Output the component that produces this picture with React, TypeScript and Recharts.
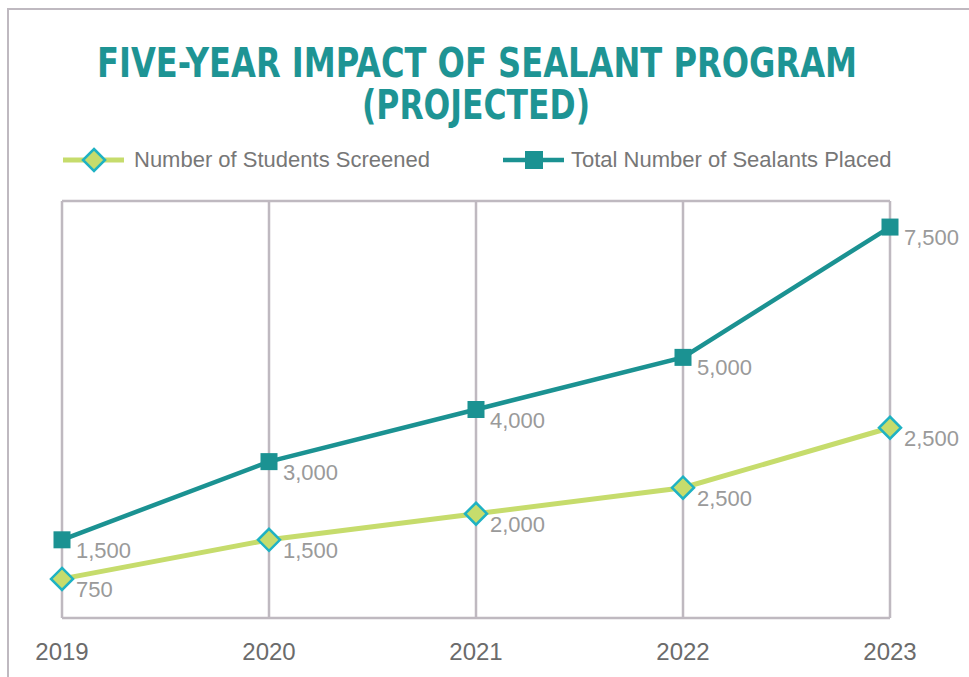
import React from "react";
import { LineChart, Line, XAxis, YAxis, CartesianGrid, ReferenceLine, LabelList } from "recharts";

const years = ["2019", "2020", "2021", "2022", "2023"];
const screened = [750, 1500, 2000, 2500, 3650];
const sealants = [1500, 3000, 4000, 5000, 7500];
const screenedLabels = ["750", "1,500", "2,000", "2,500", "2,500"];
const sealantLabels = ["1,500", "3,000", "4,000", "5,000", "7,500"];
const yDomain = [0, 8000];
const titleLines = ["FIVE-YEAR IMPACT OF SEALANT PROGRAM", "(PROJECTED)"];

const TEAL = "#1b9292";
const GREEN = "#c6dc6c";
const CYAN = "#1fb2c3";
const GRID = "#bfb9c0";
const FONT = "'Liberation Sans', Arial, sans-serif";

const data = years.map((y, i) => ({
  year: y,
  screened: screened[i],
  sealants: sealants[i],
}));

const Diamond = (props: any) => {
  const { cx, cy } = props;
  if (cx == null || cy == null) return null;
  const r = 11;
  return (
    <polygon
      points={`${cx},${cy - r} ${cx + r},${cy} ${cx},${cy + r} ${cx - r},${cy}`}
      fill={GREEN}
      stroke={CYAN}
      strokeWidth={2.5}
    />
  );
};

const Square = (props: any) => {
  const { cx, cy } = props;
  if (cx == null || cy == null) return null;
  const s = 17;
  return <rect x={cx - s / 2} y={cy - s / 2} width={s} height={s} fill={TEAL} />;
};

const makeLabel = (labels: string[]) => (p: any) => {
  const { x, y, index } = p;
  return (
    <text x={x + 14} y={y + 18} fill="#9a9a9a" fontSize={22} fontFamily={FONT}>
      {labels[index]}
    </text>
  );
};

const Tick = (p: any) => {
  const { x, y, payload } = p;
  return (
    <text x={x} y={y} dy={34} textAnchor="middle" fill="#6b6b6b" fontSize={24} fontFamily={FONT}>
      {payload.value}
    </text>
  );
};

export default function App() {
  return (
    <div style={{ position: "absolute", left: 0, top: 0, width: 969, height: 677, background: "#fff", overflow: "hidden" }}>
      <div
        style={{
          position: "absolute",
          left: 7,
          top: 8,
          width: 970,
          height: 680,
          borderTop: `2px solid ${GRID}`,
          borderLeft: `2px solid ${GRID}`,
        }}
      />
      <div style={{ position: "absolute", left: 0, top: 0 }}>
        <LineChart width={969} height={677} data={data} margin={{ top: 201, right: 79, bottom: 19, left: 62 }}>
          <CartesianGrid horizontal={false} stroke={GRID} strokeWidth={2.5} />
          <ReferenceLine y={yDomain[1]} stroke={GRID} strokeWidth={2.5} />
          <ReferenceLine y={yDomain[0]} stroke={GRID} strokeWidth={2.5} />
          <XAxis dataKey="year" height={40} axisLine={false} tickLine={false} tick={<Tick />} interval={0} />
          <YAxis hide domain={yDomain} />
          <Line
            dataKey="screened"
            stroke={GREEN}
            strokeWidth={5}
            dot={<Diamond />}
            activeDot={false}
            isAnimationActive={false}
          >
            <LabelList dataKey="screened" content={makeLabel(screenedLabels)} />
          </Line>
          <Line
            dataKey="sealants"
            stroke={TEAL}
            strokeWidth={4.5}
            dot={<Square />}
            activeDot={false}
            isAnimationActive={false}
          >
            <LabelList dataKey="sealants" content={makeLabel(sealantLabels)} />
          </Line>
        </LineChart>
      </div>
      <svg style={{ position: "absolute", left: 0, top: 0 }} width={969} height={130}>
        <text
          x={477}
          y={77}
          textAnchor="middle"
          fill="#1e9494"
          fontFamily="'DejaVu Sans Condensed', 'DejaVu Sans', sans-serif"
          fontWeight={700}
          fontSize={41}
          textLength={760}
          lengthAdjust="spacingAndGlyphs"
        >
          {titleLines[0]}
        </text>
        <text
          x={476}
          y={119}
          textAnchor="middle"
          fill="#1e9494"
          fontFamily="'DejaVu Sans Condensed', 'DejaVu Sans', sans-serif"
          fontWeight={700}
          fontSize={41}
          textLength={228}
          lengthAdjust="spacingAndGlyphs"
        >
          {titleLines[1]}
        </text>
      </svg>
      <div style={{ position: "absolute", left: 63, top: 145, height: 30, display: "flex", alignItems: "center" }}>
        <svg width={62} height={30}>
          <line x1={0} y1={15} x2={61} y2={15} stroke={GREEN} strokeWidth={5} />
          <polygon points="31,4 42,15 31,26 20,15" fill={GREEN} stroke={CYAN} strokeWidth={2.5} />
        </svg>
        <span style={{ marginLeft: 9, fontFamily: FONT, fontSize: 22, color: "#777" }}>Number of Students Screened</span>
      </div>
      <div style={{ position: "absolute", left: 503, top: 145, height: 30, display: "flex", alignItems: "center" }}>
        <svg width={61} height={30}>
          <line x1={0} y1={15} x2={61} y2={15} stroke={TEAL} strokeWidth={4.5} />
          <rect x={22} y={6} width={18} height={18} fill={TEAL} />
        </svg>
        <span style={{ marginLeft: 7, fontFamily: FONT, fontSize: 22, color: "#777" }}>Total Number of Sealants Placed</span>
      </div>
    </div>
  );
}
